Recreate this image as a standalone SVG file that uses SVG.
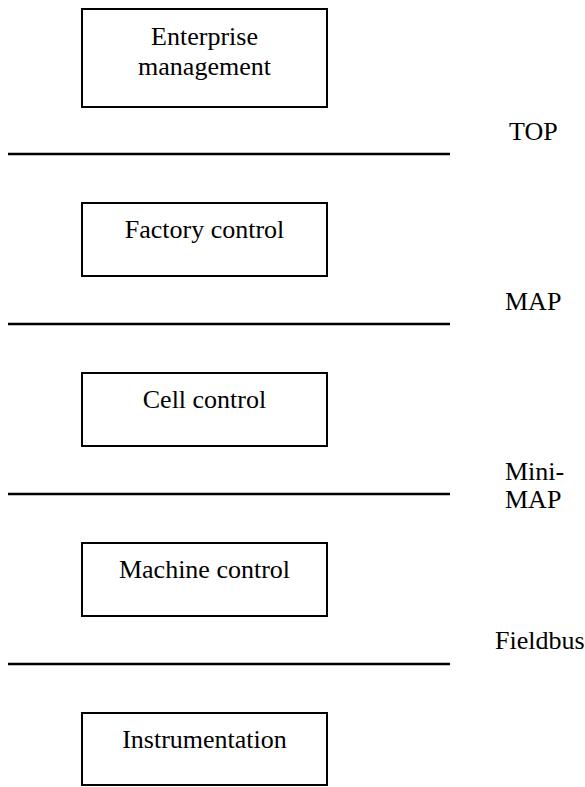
<svg xmlns="http://www.w3.org/2000/svg" width="585" height="787" viewBox="0 0 585 787" font-family="'Liberation Serif', 'Times New Roman', Times, serif">
<style>
.box{fill:#fff;stroke:#000;stroke-width:2}
.ln{stroke:#000;stroke-width:2.5}
text{font-family:'Liberation Serif','Times New Roman',Times,serif;font-size:26px;fill:#000}
.c{text-anchor:middle}
</style>
<rect width="585" height="787" fill="#fff"/>
<g id="connectors">
<line class="ln" x1="8" y1="154" x2="450" y2="154"/>
<line class="ln" x1="8" y1="324" x2="450" y2="324"/>
<line class="ln" x1="8" y1="494" x2="450" y2="494"/>
<line class="ln" x1="8" y1="664" x2="450" y2="664"/>
</g>
<g id="enterprise">
<rect class="box" x="82" y="9" width="245" height="98"/>
<text class="c" x="204.5" y="45">Enterprise</text>
<text class="c" x="204.5" y="75">management</text>
</g>
<g id="factory">
<rect class="box" x="82" y="203" width="245" height="73"/>
<text class="c" x="204.5" y="238">Factory control</text>
</g>
<g id="cell">
<rect class="box" x="82" y="373" width="245" height="73"/>
<text class="c" x="204.5" y="408">Cell control</text>
</g>
<g id="machine">
<rect class="box" x="82" y="543" width="245" height="73"/>
<text class="c" x="204.5" y="578">Machine control</text>
</g>
<g id="instrumentation">
<rect class="box" x="82" y="713" width="245" height="72"/>
<text class="c" x="204.5" y="748">Instrumentation</text>
</g>
<g id="labels">
<text x="509" y="140">TOP</text>
<text x="505" y="310">MAP</text>
<text x="505" y="480">Mini-</text>
<text x="505" y="508">MAP</text>
<text x="495" y="649">Fieldbus</text>
</g>
</svg>
